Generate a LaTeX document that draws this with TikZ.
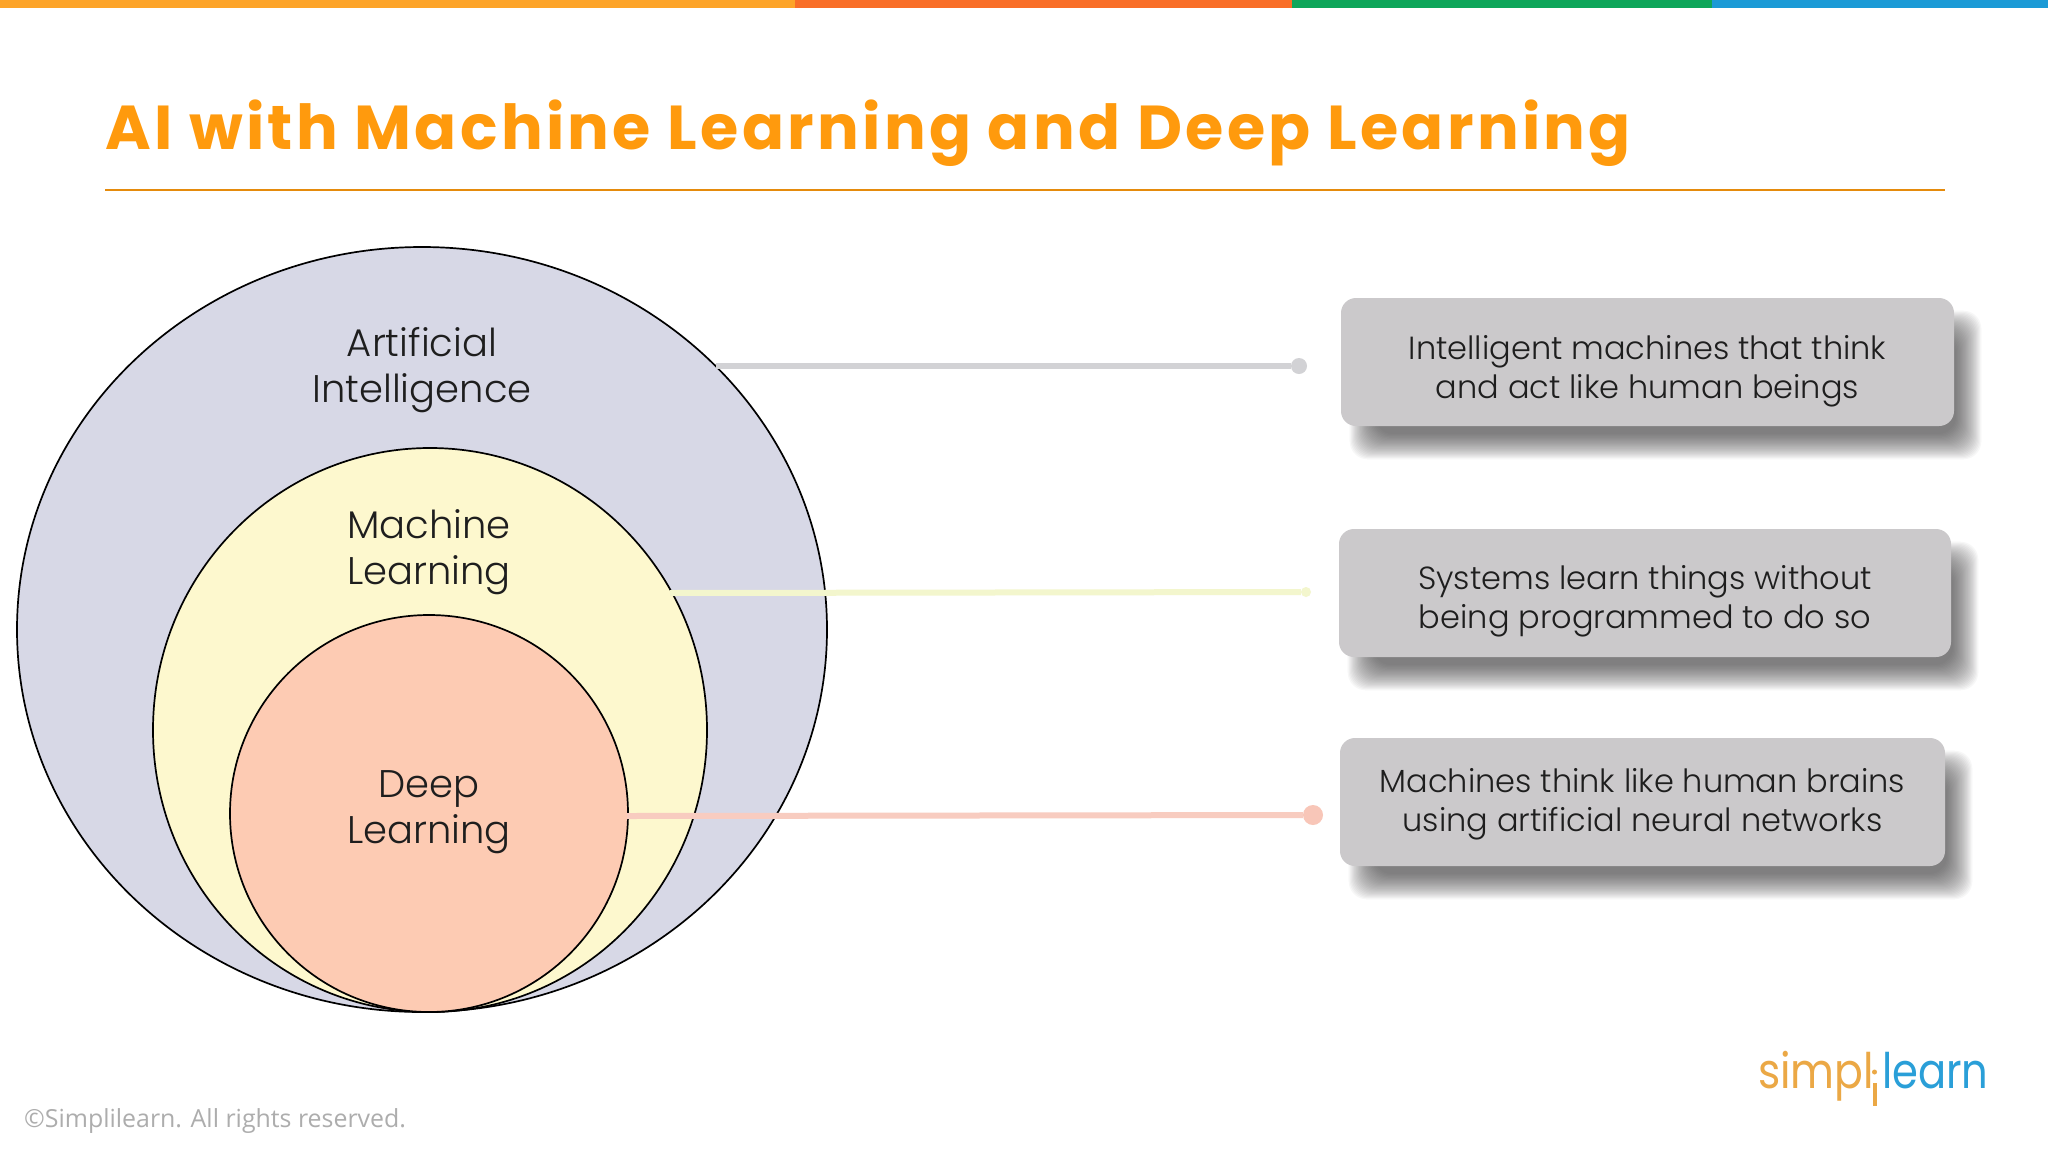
\documentclass[tikz,border=0pt]{standalone}
\usepackage{fontspec}
\setmainfont{Poppins}[UprightFont=* Light,BoldFont=* Bold]
\newfontfamily\footfont{Open Sans}
\newfontfamily\logofont{Poppins}
\newfontfamily\titlefont{Poppins}[UprightFont=* Bold,LetterSpace=5.4]
\usetikzlibrary{shapes.geometric}
\definecolor{ttl}{HTML}{FF9A0D}
\definecolor{barA}{HTML}{FDA428}
\definecolor{barB}{HTML}{F96E27}
\definecolor{barC}{HTML}{0EA65A}
\definecolor{barD}{HTML}{1B9AD6}
\definecolor{aiF}{HTML}{D7D8E6}
\definecolor{mlF}{HTML}{FDF8CE}
\definecolor{dlF}{HTML}{FDCBB3}
\definecolor{boxF}{HTML}{CBC9CB}
\definecolor{txt}{HTML}{1E1E1E}
\definecolor{lgO}{HTML}{EBA845}
\definecolor{lgB}{HTML}{2A9FD8}
\definecolor{leadA}{HTML}{D2D2D5}
\definecolor{leadB}{HTML}{F3F6CD}
\definecolor{leadC}{HTML}{F8CCC0}
\definecolor{dotC}{HTML}{F8C6B8}
\tikzset{
  x=1pt,y=-1pt,
  orb/.style={ellipse,draw=black,line width=1.7pt,inner sep=0pt},
  orblabel/.style={align=center,text=txt,inner sep=0pt,font=\fontsize{38.5}{46}\selectfont},
  infobox/.style={rectangle,rounded corners=15pt,fill=boxF,inner sep=0pt},
  infotext/.style={align=center,text=txt,inner sep=0pt,font=\fontsize{32}{39}\selectfont},
  lead/.style={line width=6pt},
  enddot/.style={circle,inner sep=0pt},
  logotext/.style={anchor=base west,inner sep=0pt,font=\logofont\fontsize{49}{50}\selectfont},
}
\newcommand\softshadow[4]{% x1 y1 x2 y2
  \foreach \k in {0,...,23}{
    \fill[black!70!boxF,opacity=.04,rounded corners=18pt]
      ({#1+34-1.1*\k},{#2+38-1.1*\k}) rectangle ({#3+2+1.1*\k},{#4+8+1.1*\k});
  }
}
\begin{document}
\begin{tikzpicture}
\useasboundingbox (0,0) rectangle (2048,1152);
\fill[white] (0,0) rectangle (2048,1152);
\fill[barA] (0,0) rectangle (795,8);
\fill[barB] (795,0) rectangle (1292,8);
\fill[barC] (1292,0) rectangle (1712,8);
\fill[barD] (1712,0) rectangle (2048,8);

\node[anchor=base west,inner sep=0pt,text=ttl,font=\titlefont\fontsize{62}{70}\selectfont] (title) at (105,149) {AI with Machine Learning and Deep Learning};
\coordinate (ruleL) at (105,190);
\coordinate (ruleR) at (1945,190);
\draw[ttl!90!black,line width=2pt] (ruleL) -- (ruleR);

\node[orb,fill=aiF,minimum width=810pt,minimum height=765pt] (ai) at (422,629.5) {};
\node[orb,fill=mlF,minimum width=554pt,minimum height=564pt] (ml) at (430,730) {};
\node[orb,fill=dlF,minimum width=398pt,minimum height=397pt] (dl) at (429,813.5) {};

\node[orblabel] (ait) at (422,370.5) {Artificial\\Intelligence};
\node[orblabel] (mlt) at (429,552.5) {Machine\\Learning};
\node[orblabel] (dlt) at (429,812) {Deep\\Learning};

\softshadow{1341}{298}{1954}{426}
\softshadow{1339}{529}{1951}{657}
\softshadow{1340}{738}{1945}{866}
\node[infobox,minimum width=613pt,minimum height=128pt] (b1) at (1647.5,362) {};
\node[infobox,minimum width=612pt,minimum height=128pt] (b2) at (1645,593) {};
\node[infobox,minimum width=605pt,minimum height=128pt] (b3) at (1642.5,802) {};
\node[infotext] (t1) at (1647.5,371.5) {Intelligent machines that think\\and act like human beings};
\node[infotext] (t2) at (1645,601.5) {Systems learn things without\\being programmed to do so};
\node[infotext] (t3) at (1642.5,804.5) {Machines think like human brains\\using artificial neural networks};

\coordinate (s1) at (716,366);
\coordinate (s2) at (670,593);
\coordinate (s3) at (627,816);
\node[enddot,fill=leadA,minimum size=16pt] (d1) at (1299,366) {};
\node[enddot,fill=leadB,minimum size=10pt] (d2) at (1306,592) {};
\node[enddot,fill=dotC,minimum size=20pt] (d3) at (1313,815) {};
\draw[lead,color=leadA] (s1) -- (d1);
\draw[lead,color=leadB] (s2) -- (d2);
\draw[lead,color=leadC] (s3) -- (d3);

\node[anchor=base west,inner sep=0pt,text=black!32,font=\footfont\fontsize{24.9}{28}\selectfont] (copy) at (24,1127) {©Simplilearn. All rights reserved.};

\node[logotext,text=lgO] (lg1) at (1758,1088) {\scalebox{.87}[1]{simpl}};
\node[logotext,text=lgB] (lg2) at (1882,1088) {\scalebox{.85}[1]{learn}};
\fill[lgO] (1872.5,1083) rectangle (1876.5,1106);
\fill[lgO] (1874.5,1072) circle (2.5);
\end{tikzpicture}
\end{document}
